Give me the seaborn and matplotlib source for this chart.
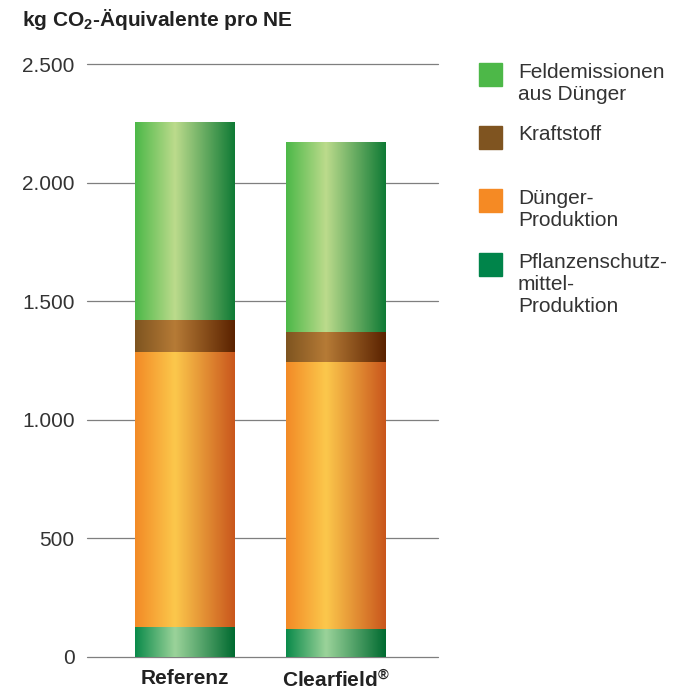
import numpy as np
import pandas as pd
import matplotlib
matplotlib.use('Agg')
import matplotlib.pyplot as plt
import seaborn as sns
from matplotlib.colors import LinearSegmentedColormap
from matplotlib.patches import Rectangle

# Daten
kategorien = ['Referenz', 'Clearfield$^{®}$']
pflanzenschutz = [125, 120]
duenger_produktion = [1160, 1123]
kraftstoff = [135, 127]
feldemissionen = [835, 801]

ytick_werte = [0, 500, 1000, 1500, 2000, 2500]
ytick_labels = ['0', '500', '1.000', '1.500', '2.000', '2.500']

legende = ['Feldemissionen\naus Dünger', 'Kraftstoff', 'Dünger-\nProduktion',
           'Pflanzenschutz-\nmittel-\nProduktion']

# Farben: Grundfarbe + Verlauf (links, hell, rechts)
farben = {
    'feld': ('#4db848', ['#4cb848', '#bcdb8c', '#0f7a35']),
    'kraft': ('#7f5420', ['#7e5420', '#b67b36', '#5a2200']),
    'duenger': ('#f58a24', ['#f28a26', '#fcc84c', '#c9561c']),
    'psm': ('#00844a', ['#0a8a4a', '#9bd39a', '#006a30']),
}

sns.set_theme(style='white')
plt.rcParams['font.family'] = ['Liberation Sans', 'DejaVu Sans']
plt.rcParams['mathtext.fontset'] = 'custom'
plt.rcParams['mathtext.rm'] = 'Liberation Sans:bold'
plt.rcParams['mathtext.default'] = 'rm'

df = pd.DataFrame({'kat': kategorien,
                   'psm': pflanzenschutz,
                   'duenger': duenger_produktion,
                   'kraft': kraftstoff,
                   'feld': feldemissionen})
df['c_psm'] = df['psm']
df['c_duenger'] = df['c_psm'] + df['duenger']
df['c_kraft'] = df['c_duenger'] + df['kraft']
df['c_feld'] = df['c_kraft'] + df['feld']

fig = plt.figure(figsize=(6.77, 6.95), dpi=100)
ax = fig.add_axes([87 / 677, 1 - 657 / 695, (438 - 87) / 677, (657 - 64) / 695])

breite = 0.656
schichten = ['feld', 'kraft', 'duenger', 'psm']
for key in schichten:
    n0 = len(ax.patches)
    sns.barplot(data=df, x='kat', y='c_' + key, color=farben[key][0],
                saturation=1, width=breite, errorbar=None, ax=ax, zorder=2)
    cmap = LinearSegmentedColormap.from_list(key, list(zip([0, 0.4, 1], farben[key][1])))
    grad = np.linspace(0, 1, 256).reshape(1, -1)
    for p in ax.patches[n0:]:
        p.set_linewidth(0)
        x0, y0 = p.get_x(), p.get_y()
        w, h = p.get_width(), p.get_height()
        im = ax.imshow(grad, cmap=cmap, aspect='auto', extent=(x0, x0 + w, y0, y0 + h),
                       zorder=2, interpolation='bicubic')
        im.set_clip_path(p)

ax.set_xlim(-0.646, 1.679)
ax.set_ylim(0, 2500)
ax.set_yticks(ytick_werte)
ax.set_yticklabels(ytick_labels, fontsize=15, color='#333333')
ax.set_xticks(range(len(kategorien)))
ax.set_xticklabels(kategorien, fontsize=15, fontweight='bold', color='#222222')
ax.tick_params(axis='y', length=0, pad=9)
ax.tick_params(axis='x', length=0, pad=9)
ax.set_xlabel('')
ax.set_ylabel('')
ax.yaxis.grid(True, color='#7f7f7f', linewidth=0.9)
for gl in ax.get_ygridlines():
    gl.set_clip_on(False)
ax.set_axisbelow(True)
sns.despine(ax=ax, left=True, bottom=True)

fig.text(22 / 677, 1 - 25.5 / 695, 'kg CO$_2$-Äquivalente pro NE', fontsize=15,
         fontweight='bold', color='#222222', va='baseline', ha='left')

# Legende
leg_keys = ['feld', 'kraft', 'duenger', 'psm']
leg_top = [63, 126, 189, 253]
for key, txt, top in zip(leg_keys, legende, leg_top):
    fig.patches.append(Rectangle((479 / 677, 1 - (top + 23) / 695), 23 / 677, 23 / 695,
                                 transform=fig.transFigure, color=farben[key][0]))
    fig.text(518 / 677, 1 - (top - 0.5) / 695, txt, fontsize=15, color='#333333',
             va='top', ha='left', linespacing=1.22)

fig.savefig('out.png', dpi=100)
